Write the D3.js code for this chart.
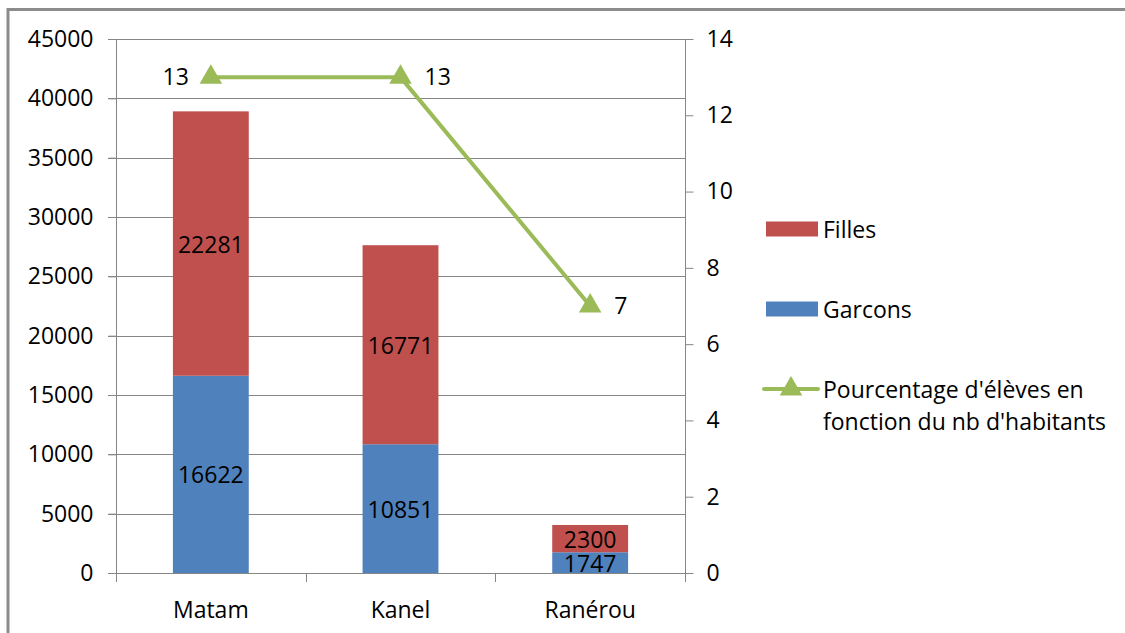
<!DOCTYPE html>
<html>
<head>
<meta charset="utf-8">
<script src="https://cdn.jsdelivr.net/npm/d3@7"></script>
<style>
  body { margin: 0; background: #fff; }
  svg { display: block; }
  text { font-family: "Open Sans", sans-serif; fill: #000; }
</style>
</head>
<body>
<div id="chart"></div>
<script>
// Données
const communes = ["Matam", "Kanel", "Ranérou"];
const garcons = [16622, 10851, 1747];
const filles = [22281, 16771, 2300];
const pourcentage = [13, 13, 7];
const leftTicks = [0, 5000, 10000, 15000, 20000, 25000, 30000, 35000, 40000, 45000];
const rightTicks = [0, 2, 4, 6, 8, 10, 12, 14];

const width = 1125, height = 633;
const plot = { left: 116, right: 685, top: 39, bottom: 573 };
const fontSize = 23;

const colFilles = "#C0504D";
const colGarcons = "#4F81BD";
const colLine = "#9BBB59";
const colAxis = "#868686";

const svg = d3.select("#chart").append("svg")
    .attr("width", width)
    .attr("height", height);

// cadre extérieur (seuls les bords haut et gauche sont visibles)
svg.append("path")
    .attr("d", `M8,${height} L8,9.5 L${width},9.5`)
    .attr("fill", "none")
    .attr("stroke", "#8c8c8c")
    .attr("stroke-width", 3);

const x = d3.scaleBand()
    .domain(communes)
    .range([plot.left, plot.right])
    .paddingInner(0.6)
    .paddingOuter(0.3);

const yLeft = d3.scaleLinear().domain([0, 45000]).range([plot.bottom, plot.top]);
const yRight = d3.scaleLinear().domain([0, 14]).range([plot.bottom, plot.top]);

// grille horizontale
svg.append("g")
    .selectAll("line")
    .data(leftTicks)
    .enter()
    .append("line")
    .attr("x1", plot.left - 8)
    .attr("x2", plot.right)
    .attr("y1", d => Math.round(yLeft(d)) + 0.5)
    .attr("y2", d => Math.round(yLeft(d)) + 0.5)
    .attr("stroke", colAxis)
    .attr("stroke-width", 1);

// axe gauche
const leftAxis = svg.append("g")
    .attr("transform", `translate(${plot.left + 0.5},0)`)
    .call(d3.axisLeft(yLeft).tickValues(leftTicks).tickSize(8).tickPadding(15).tickFormat(d3.format("d")));
leftAxis.select(".domain").attr("stroke", colAxis).attr("d", `M0,${plot.top}V${plot.bottom}`);
leftAxis.selectAll(".tick line").attr("stroke", colAxis);
leftAxis.selectAll("text").style("font-size", fontSize + "px").attr("fill", "#000");

// axe droit
const rightAxis = svg.append("g")
    .attr("transform", `translate(${plot.right + 0.5},0)`)
    .call(d3.axisRight(yRight).tickValues(rightTicks).tickSize(8).tickPadding(13));
rightAxis.select(".domain").attr("stroke", colAxis).attr("d", `M0,${plot.top}V${plot.bottom + 8}`);
rightAxis.selectAll(".tick line").attr("stroke", colAxis);
rightAxis.selectAll("text").style("font-size", fontSize + "px").attr("fill", "#000");

// axe des catégories
const catBounds = [0, 1, 2, 3].map(i => plot.left + i * (plot.right - plot.left) / 3);
svg.append("g")
    .selectAll("line")
    .data(catBounds)
    .enter()
    .append("line")
    .attr("x1", d => Math.round(d) + 0.5)
    .attr("x2", d => Math.round(d) + 0.5)
    .attr("y1", plot.bottom)
    .attr("y2", plot.bottom + 9)
    .attr("stroke", colAxis);

svg.append("g")
    .selectAll("text")
    .data(communes)
    .enter()
    .append("text")
    .attr("x", d => x(d) + x.bandwidth() / 2)
    .attr("y", 609)
    .attr("text-anchor", "middle")
    .attr("dominant-baseline", "central")
    .style("font-size", fontSize + "px")
    .text(d => d);

// barres empilées
const stackData = communes.map((c, i) => ({ commune: c, garcons: garcons[i], filles: filles[i] }));
const series = d3.stack().keys(["garcons", "filles"])(stackData);
const colors = { garcons: colGarcons, filles: colFilles };

const layers = svg.append("g")
    .selectAll("g")
    .data(series)
    .enter()
    .append("g")
    .attr("fill", d => colors[d.key]);

layers.selectAll("rect")
    .data(d => d)
    .enter()
    .append("rect")
    .attr("x", d => x(d.data.commune))
    .attr("width", x.bandwidth())
    .attr("y", d => yLeft(d[1]))
    .attr("height", d => yLeft(d[0]) - yLeft(d[1]));

layers.selectAll("text")
    .data(d => d.map(v => ({ v, key: d.key })))
    .enter()
    .append("text")
    .attr("x", d => x(d.v.data.commune) + x.bandwidth() / 2)
    .attr("y", d => (yLeft(d.v[0]) + yLeft(d.v[1])) / 2)
    .attr("text-anchor", "middle")
    .attr("dominant-baseline", "central")
    .style("font-size", fontSize + "px")
    .style("fill", "#000")
    .text(d => d.v.data[d.key]);

// ligne du pourcentage
const cx = d => x(d) + x.bandwidth() / 2;
const line = d3.line()
    .x((d, i) => cx(communes[i]))
    .y(d => yRight(d));

svg.append("path")
    .datum(pourcentage)
    .attr("d", line)
    .attr("fill", "none")
    .attr("stroke", colLine)
    .attr("stroke-width", 4)
    .attr("stroke-linejoin", "round");

const tri = d3.symbol().type(d3.symbolTriangle).size(220);
svg.append("g")
    .selectAll("path")
    .data(pourcentage)
    .enter()
    .append("path")
    .attr("d", tri)
    .attr("transform", (d, i) => `translate(${cx(communes[i])},${yRight(d)})`)
    .attr("fill", colLine);

// étiquettes de la ligne : gauche pour le premier point, droite pour les autres
svg.append("g")
    .selectAll("text")
    .data(pourcentage)
    .enter()
    .append("text")
    .attr("x", (d, i) => cx(communes[i]) + (i === 0 ? -22 : 24))
    .attr("y", d => yRight(d) - 1)
    .attr("text-anchor", (d, i) => i === 0 ? "end" : "start")
    .attr("dominant-baseline", "central")
    .style("font-size", fontSize + "px")
    .text(d => d);

// légende
const legend = svg.append("g");
const legendItems = [
    { label: ["Filles"], color: colFilles, y: 229, type: "rect" },
    { label: ["Garcons"], color: colGarcons, y: 309, type: "rect" },
    { label: ["Pourcentage d'élèves en", "fonction du nb d'habitants"], color: colLine, y: 389, type: "line" }
];
legendItems.forEach(it => {
    if (it.type === "rect") {
        legend.append("rect")
            .attr("x", 766).attr("y", it.y - 7.5)
            .attr("width", 52).attr("height", 15)
            .attr("fill", it.color);
    } else {
        legend.append("line")
            .attr("x1", 764).attr("x2", 818)
            .attr("y1", it.y).attr("y2", it.y)
            .attr("stroke", it.color).attr("stroke-width", 4)
            .attr("stroke-linecap", "round");
        legend.append("path")
            .attr("d", tri)
            .attr("transform", `translate(791,${it.y})`)
            .attr("fill", it.color);
    }
    it.label.forEach((l, j) => {
        legend.append("text")
            .attr("x", 823)
            .attr("y", it.y + j * 32)
            .attr("dominant-baseline", "central")
            .style("font-size", fontSize + "px")
            .text(l);
    });
});
</script>
</body>
</html>
